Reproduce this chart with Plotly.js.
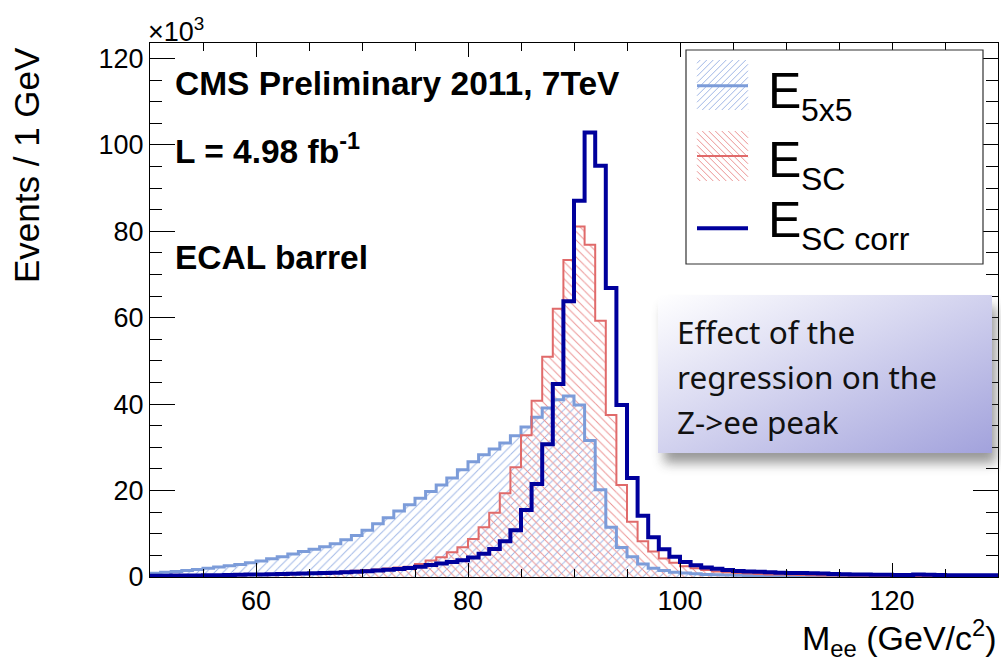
<!DOCTYPE html>
<html>
<head>
<meta charset="utf-8">
<script src="https://cdn.plot.ly/plotly-3.0.1.min.js"></script>
<style>html,body{margin:0;padding:0;background:#fff;}#plot{width:1001px;height:662px;}</style>
</head>
<body>
<div id="plot"></div>
<script>
// Bin lower edges (1 GeV bins, 50..129)
const binLow = Array.from({length: 80}, (_, i) => 50 + i);

// E_5x5 (light blue), events x10^3 per bin
const e5x5 = [
  0.85, 1.1, 1.3, 1.5, 1.75, 2.0, 2.3, 2.6, 2.9, 3.3,
  3.7, 4.2, 4.7, 5.3, 5.9, 6.4, 7.0, 7.7, 8.6, 9.6,
  10.8, 12.3, 13.7, 15.3, 16.7, 18.2, 19.8, 21.3, 22.9, 24.8,
  26.7, 28.3, 29.6, 31.0, 32.7, 34.7, 37.0, 39.1, 41.0, 41.9,
  39.8, 31.6, 20.2, 11.5, 6.8, 4.7, 3.0, 2.0, 1.5, 1.1,
  0.9, 0.75, 0.6, 0.5, 0.45, 0.4, 0.35, 0.32, 0.3, 0.28,
  0.26, 0.24, 0.22, 0.21, 0.2, 0.19, 0.18, 0.17, 0.16, 0.15,
  0.15, 0.14, 0.14, 0.13, 0.13, 0.12, 0.12, 0.11, 0.11, 0.1
];

// E_SC (red)
const eSC = [
  0.15, 0.17, 0.2, 0.22, 0.25, 0.28, 0.32, 0.36, 0.4, 0.45,
  0.5, 0.55, 0.6, 0.7, 0.8, 0.9, 1.0, 1.15, 1.3, 1.45,
  1.6, 1.75, 1.95, 2.2, 2.4, 3.0, 3.8, 4.6, 5.7, 6.9,
  8.8, 11.5, 14.9, 19.4, 25.4, 32.8, 40.8, 51.0, 62.1, 73.4,
  81.1, 76.9, 59.3, 37.5, 21.3, 12.8, 8.3, 5.9, 4.3, 3.3,
  2.5, 2.0, 1.6, 1.3, 1.1, 0.9, 0.8, 0.7, 0.6, 0.55,
  0.5, 0.45, 0.4, 0.37, 0.34, 0.32, 0.3, 0.28, 0.26, 0.25,
  0.24, 0.23, 0.22, 0.21, 0.21, 0.2, 0.2, 0.19, 0.19, 0.18
];

// E_SC corr (dark blue)
const eSCcorr = [
  0.3, 0.3, 0.32, 0.35, 0.37, 0.4, 0.42, 0.45, 0.5, 0.55,
  0.6, 0.65, 0.7, 0.75, 0.8, 0.85, 0.9, 1.0, 1.1, 1.2,
  1.35, 1.5, 1.65, 1.85, 2.1, 2.4, 2.75, 3.1, 3.5, 3.9,
  4.5, 5.4, 6.5, 8.3, 10.8, 15.5, 21.5, 30.7, 44.7, 63.8,
  87.1, 102.9, 95.2, 66.9, 39.8, 22.9, 14.2, 9.2, 6.4, 4.7,
  3.5, 2.7, 2.2, 1.9, 1.6, 1.4, 1.3, 1.2, 1.1, 1.0,
  0.95, 0.9, 0.85, 0.8, 0.7, 0.65, 0.6, 0.55, 0.5, 0.5,
  0.45, 0.45, 0.55, 0.5, 0.45, 0.42, 0.4, 0.4, 0.38, 0.38
];

const xTickVals = [60, 80, 100, 120];
const yTickVals = [0, 20, 40, 60, 80, 100, 120];
const legendLabels = ["5x5", "SC", "SC corr"];
const noteLines = ["Effect of the", "regression on the", "Z->ee peak"];

// ---------- geometry helpers (pixel -> paper) ----------
const L = 150, R = 3, T = 43, B = 85, W = 1001, H = 662;
const PW = W - L - R, PH = H - T - B;
const px = v => (v - L) / PW;
const py = v => (H - B - v) / PH;

const binCenters = binLow.map(b => b + 0.5);
const edges = binLow.concat([binLow[binLow.length - 1] + 1]);
const stepY = arr => arr.concat([arr[arr.length - 1]]);

const C_LB = '#7c9cd9', C_LB_H = '#9fb6e6';
const C_RD = '#e06a6a', C_RD_H = '#eb9393';
const C_DB = '#00009c';

const traces = [
  {type: 'bar', x: binCenters, y: e5x5, width: 1, marker: {color: C_LB_H, line: {width: 0},
    pattern: {shape: '/', size: 6, solidity: 0.16, fillmode: 'replace'}}, hoverinfo: 'skip', showlegend: false},
  {type: 'bar', x: binCenters, y: eSC, width: 1, marker: {color: C_RD_H, line: {width: 0},
    pattern: {shape: '\\', size: 6, solidity: 0.16, fillmode: 'replace'}}, hoverinfo: 'skip', showlegend: false},
  {type: 'scatter', mode: 'lines', x: edges, y: stepY(e5x5), line: {shape: 'hv', color: C_LB, width: 3}, showlegend: false},
  {type: 'scatter', mode: 'lines', x: edges, y: stepY(eSC), line: {shape: 'hv', color: C_RD, width: 2}, showlegend: false},
  {type: 'scatter', mode: 'lines', x: edges, y: stepY(eSCcorr), line: {shape: 'hv', color: C_DB, width: 4}, showlegend: false}
];

// ---------- shapes: legend box & hatched swatches ----------
const shapes = [];
function rectPx(x0, y0, x1, y1, opts) {
  shapes.push(Object.assign({type: 'rect', xref: 'paper', yref: 'paper', layer: 'above',
    x0: px(x0), x1: px(x1), y0: py(y1), y1: py(y0)}, opts));
}
function linePx(x0, y0, x1, y1, color, width) {
  shapes.push({type: 'line', xref: 'paper', yref: 'paper', layer: 'above',
    x0: px(x0), y0: py(y0), x1: px(x1), y1: py(y1), line: {color: color, width: width}});
}
function hatch(x0, y0, x1, y1, dir, step, color) {
  if (dir === '/') {
    for (let c = x0 + y0 + step / 2; c < x1 + y1; c += step) {
      const xa = Math.max(x0, c - y1), xb = Math.min(x1, c - y0);
      if (xb > xa) linePx(xa, c - xa, xb, c - xb, color, 1);
    }
  } else {
    for (let c = x0 - y1 + step / 2; c < x1 - y0; c += step) {
      const xa = Math.max(x0, c + y0), xb = Math.min(x1, c + y1);
      if (xb > xa) linePx(xa, xa - c, xb, xb - c, color, 1);
    }
  }
}
rectPx(686, 50, 983, 264, {fillcolor: '#ffffff', line: {color: '#333333', width: 1.2}});
hatch(697, 60, 748, 110, '/', 6.5, C_LB_H);
linePx(697, 85.7, 748, 85.7, C_LB, 3);
hatch(697, 131, 748, 181, '\\', 6.5, C_RD_H);
linePx(697, 156, 748, 156, C_RD, 2);
linePx(697, 228.3, 748, 228.3, C_DB, 4);

// ---------- note box (gradient + shadow) as SVG image ----------
const svgBox = "<svg xmlns='http://www.w3.org/2000/svg' width='351' height='200' viewBox='0 0 351 200'>" +
  "<defs><linearGradient id='g' x1='0' y1='0' x2='1' y2='1'>" +
  "<stop offset='0' stop-color='#ffffff'/><stop offset='0.45' stop-color='#d6d6f0'/><stop offset='1' stop-color='#a2a2dc'/></linearGradient>" +
  "<filter id='f' x='-20%' y='-30%' width='140%' height='170%'><feGaussianBlur stdDeviation='6'/></filter></defs>" +
  "<rect x='14' y='22' width='332' height='156' fill='#444' opacity='0.55' filter='url(#f)'/>" +
  "<rect x='8' y='10' width='334' height='158' fill='url(#g)'/></svg>";
const images = [{
  source: 'data:image/svg+xml;base64,' + btoa(svgBox),
  xref: 'paper', yref: 'paper', x: px(650), y: py(285), sizex: 351 / PW, sizey: 200 / PH,
  xanchor: 'left', yanchor: 'top', sizing: 'stretch', layer: 'above'
}];

// ---------- annotations ----------
const FF = 'Liberation Sans, Arial, sans-serif';
const ann = [];
function textPx(x, y, text, size, opts) {
  ann.push(Object.assign({xref: 'paper', yref: 'paper', x: px(x), y: py(y), text: text, showarrow: false,
    xanchor: 'left', yanchor: 'middle', font: {family: FF, size: size, color: '#000'}}, opts || {}));
}
const boldFont = {family: FF, size: 33.5, color: '#000', weight: 700};
textPx(173, 84, 'CMS Preliminary 2011, 7TeV', 33.5, {font: boldFont});
textPx(173, 149, 'L = 4.98 fb<sup>-1</sup>', 33.5, {font: boldFont});
textPx(173, 257, 'ECAL barrel', 33.5, {font: boldFont});
// legend text
const eMid = [91.3, 159.7, 219.7], subMid = [110.3, 178.6, 238.6];
for (let i = 0; i < 3; i++) {
  textPx(766, eMid[i], 'E', 50);
  textPx(799, subMid[i], legendLabels[i], 32);
}
// note text
const noteMid = [331, 376, 421];
noteLines.forEach((t, i) => textPx(675, noteMid[i], t, 31.5, {font: {family: 'Noto Sans, Open Sans, sans-serif', size: 31.5, color: '#111'}}));
// axis titles
textPx(26, 165, 'Events / 1 GeV', 35, {xanchor: 'center', textangle: -90});
textPx(999, 638, 'M<sub>ee</sub> (GeV/c<sup>2</sup>)', 34, {xanchor: 'right'});
textPx(146, 30, '\u00d710<sup>3</sup>', 27);

const layout = {
  width: W, height: H,
  margin: {l: L, r: R, t: T, b: B},
  paper_bgcolor: '#ffffff', plot_bgcolor: '#ffffff',
  barmode: 'overlay', showlegend: false,
  font: {family: FF, color: '#000'},
  xaxis: {range: [50, 130], tickvals: xTickVals, ticktext: xTickVals.map(String), ticks: 'inside', ticklen: 14,
    tickcolor: '#000', tickwidth: 1, showline: true, linecolor: '#000', linewidth: 1, mirror: 'allticks',
    showgrid: false, zeroline: false, tickfont: {family: FF, size: 27},
    minor: {dtick: 5, tick0: 0, ticks: 'inside', ticklen: 8, tickcolor: '#000', showgrid: false}},
  yaxis: {range: [0, 123.6], tickvals: yTickVals, ticktext: yTickVals.map(String), ticks: 'inside', ticklen: 25,
    tickcolor: '#000', tickwidth: 1, showline: true, linecolor: '#000', linewidth: 1, mirror: 'allticks',
    showgrid: false, zeroline: false, tickfont: {family: FF, size: 27},
    minor: {dtick: 5, tick0: 0, ticks: 'inside', ticklen: 12, tickcolor: '#000', showgrid: false}},
  shapes: shapes, annotations: ann, images: images
};

Plotly.newPlot('plot', traces, layout, {staticPlot: true, displayModeBar: false});
</script>
</body>
</html>
